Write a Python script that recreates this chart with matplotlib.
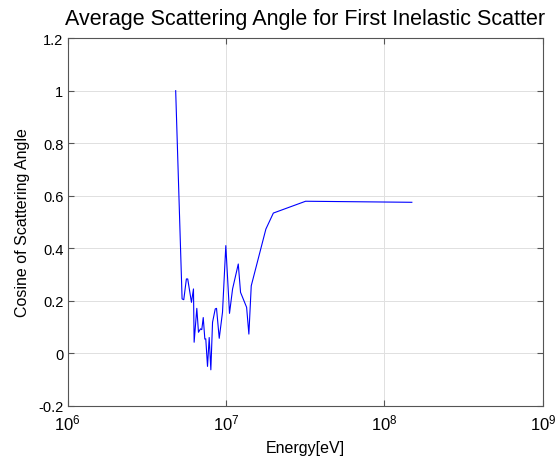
import numpy as np
import matplotlib
matplotlib.use('Agg')
import matplotlib.pyplot as plt

plt.rcParams['font.family'] = ['Liberation Sans', 'DejaVu Sans']
plt.rcParams['mathtext.fontset'] = 'custom'
plt.rcParams['mathtext.rm'] = 'Liberation Sans'

# energy [eV] and cosine of scattering angle
energy = [4.81e6, 5.28e6, 5.41e6, 5.62e6, 5.73e6, 6.05e6, 6.23e6, 6.29e6,
          6.54e6, 6.70e6, 6.90e6, 7.03e6, 7.18e6, 7.35e6, 7.45e6, 7.64e6,
          7.83e6, 8.02e6, 8.22e6, 8.55e6, 8.71e6, 9.06e6, 9.50e6, 9.97e6,
          1.052e7, 1.10e7, 1.195e7, 1.235e7, 1.349e7, 1.394e7, 1.443e7,
          1.785e7, 1.99e7, 3.18e7, 1.49e8]
mu = [1.0, 0.207, 0.204, 0.283, 0.283, 0.194, 0.245, 0.042,
      0.171, 0.08, 0.093, 0.09, 0.136, 0.054, 0.055, -0.05,
      0.06, -0.063, 0.118, 0.169, 0.171, 0.057, 0.156, 0.41,
      0.152, 0.245, 0.34, 0.232, 0.175, 0.073, 0.257,
      0.473, 0.534, 0.579, 0.575]

fig = plt.figure(figsize=(5.59, 4.6), dpi=100)
ax = fig.add_axes([0.121, 0.1157, 0.85, 0.7991])

ax.semilogx(energy, mu, color='#0000ff', lw=0.8)

ax.set_xlim(1e6, 1e9)
ax.set_ylim(-0.2, 1.2)
ax.set_yticks(np.arange(-0.2, 1.21, 0.2))
ax.set_yticklabels(['-0.2', '0', '0.2', '0.4', '0.6', '0.8', '1', '1.2'])
ax.set_xticks([1e6, 1e7, 1e8, 1e9])
ax.xaxis.set_minor_locator(matplotlib.ticker.NullLocator())

ax.grid(True, color='#e0e0e0', lw=0.7)
ax.set_axisbelow(True)
ax.tick_params(direction='in', top=True, right=True, labelsize=10.5, length=4,
               color='#555555')
ax.tick_params(axis='x', pad=5, labelsize=12)
ax.tick_params(axis='y', pad=3)
for s in ax.spines.values():
    s.set_color('#555555')
    s.set_linewidth(0.8)

ax.set_title('Average Scattering Angle for First Inelastic Scatter',
             fontsize=15.5, pad=10)
ax.set_xlabel('Energy[eV]', fontsize=11.5, labelpad=5)
ax.set_ylabel('Cosine of Scattering Angle', fontsize=11.5, labelpad=6)

fig.savefig('out.png', dpi=100)
